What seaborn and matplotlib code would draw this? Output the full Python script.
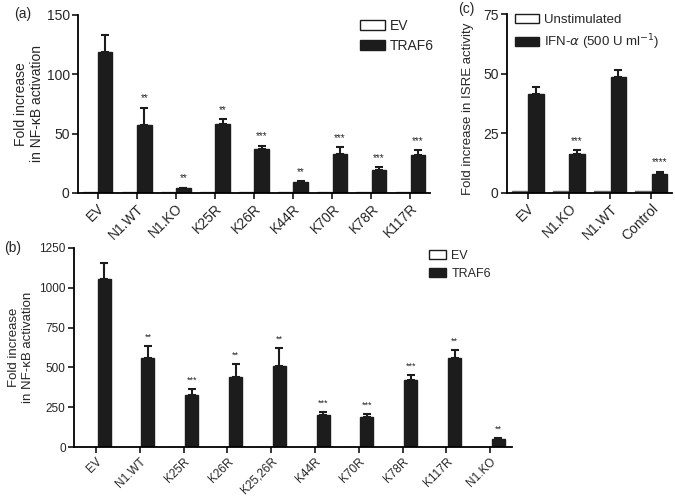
import numpy as np
import pandas as pd
import matplotlib.pyplot as plt
import seaborn as sns
from matplotlib.patches import Patch

sns.set_style("ticks")
plt.rcParams["font.family"] = ["Liberation Sans", "DejaVu Sans"]
plt.rcParams["axes.edgecolor"] = "black"

# ---- panel (a): NF-kB, TRAF6 ----
a_labels = ["EV", "N1.WT", "N1.KO", "K25R", "K26R", "K44R", "K70R", "K78R", "K117R"]
a_ev = [1, 1, 1, 1, 1, 1, 1, 1, 1]
a_traf6 = [119, 57, 4, 58, 37, 9, 33, 19, 32]
a_err = [14, 15, 0.6, 4.5, 3, 1.2, 5.5, 3, 4]
a_stars = ["", "**", "**", "**", "***", "**", "***", "***", "***"]

# ---- panel (b): NF-kB, TRAF6 (second set) ----
b_labels = ["EV", "N1.WT", "K25R", "K26R", "K25,26R", "K44R", "K70R", "K78R", "K117R", "N1.KO"]
b_ev = [3, 3, 3, 3, 3, 3, 3, 3, 3, 3]
b_traf6 = [1055, 560, 325, 440, 510, 200, 190, 420, 560, 50]
b_err = [100, 75, 40, 80, 110, 20, 15, 35, 52, 6]
b_stars = ["", "**", "***", "**", "**", "***", "***", "***", "**", "**"]

# ---- panel (c): ISRE ----
c_labels = ["EV", "N1.KO", "N1.WT", "Control"]
c_unstim = [1, 1, 1, 1]
c_ifn = [41.5, 16.5, 48.5, 8]
c_err = [3, 1.5, 3, 1]
c_stars = ["", "***", "", "****"]

fig = plt.figure(figsize=(6.75, 5.01), dpi=100)
W, H = 675, 501


def add_ax(left, top, right, bottom):
    return fig.add_axes([left / W, 1 - bottom / H, (right - left) / W, (bottom - top) / H])


def draw_panel(ax, labels, low, high, err, stars, names, low_fill, low_edge,
               width, gap, tick_fs, star_fs):
    n = len(labels)
    df = pd.DataFrame({
        "group": labels * 2,
        "cond": [names[0]] * n + [names[1]] * n,
        "value": low + high,
    })
    sns.barplot(data=df, x="group", y="value", hue="cond", order=labels,
                hue_order=names, palette=[low_fill, "#1c1c1c"], errorbar=None,
                width=width, gap=gap, legend=False, ax=ax)
    for p in ax.containers[0]:
        p.set_edgecolor(low_edge)
        p.set_linewidth(1.0)
    for p in ax.containers[1]:
        p.set_edgecolor("#1c1c1c")
        p.set_linewidth(1.0)
    xs = [p.get_x() + p.get_width() / 2 for p in ax.containers[1]]
    ax.errorbar(xs, high, yerr=[np.zeros(n), err], fmt="none", ecolor="#1c1c1c",
                elinewidth=1.5, capsize=3, capthick=1.5)
    for x, h, e, s in zip(xs, high, err, stars):
        if s:
            ax.annotate(s, (x, h + e), xytext=(0, 3), textcoords="offset points",
                        ha="center", va="bottom", fontsize=star_fs)
    sns.despine(ax=ax)
    for sp in ["left", "bottom"]:
        ax.spines[sp].set_linewidth(1.3)
    ax.tick_params(axis="both", length=4, width=1.3, labelsize=tick_fs, pad=2)
    ax.set_xlabel("")
    ax.set_xticks(range(n))
    ax.set_xticklabels(labels, rotation=45, ha="right", rotation_mode="anchor")
    ax.set_xlim(-0.5, n - 0.5)


def legend(ax, labels, anchor, fs, hl):
    ax.legend(handles=[Patch(facecolor="white", edgecolor="#1c1c1c", label=labels[0]),
                       Patch(facecolor="#1c1c1c", edgecolor="#1c1c1c", label=labels[1])],
              loc="upper left", bbox_to_anchor=anchor, frameon=False, fontsize=fs,
              handlelength=hl, handleheight=0.7, handletextpad=0.4, labelspacing=0.45,
              borderaxespad=0, borderpad=0)


# (a)
ax_a = add_ax(78, 15, 430, 193)
draw_panel(ax_a, a_labels, a_ev, a_traf6, a_err, a_stars, ["EV", "TRAF6"],
           "white", "#777777", 0.78, 0.05, 10, 7)
ax_a.set_ylim(0, 150)
ax_a.set_yticks([0, 50, 100, 150])
ax_a.set_ylabel("Fold increase\nin NF-\u03baB activation", fontsize=10, labelpad=2)
legend(ax_a, ["EV", "TRAF6"], (0.80, 0.98), 10, 1.8)

# (c)
ax_c = add_ax(507, 14, 672, 193)
draw_panel(ax_c, c_labels, c_unstim, c_ifn, c_err, c_stars,
           ["Unstimulated", "IFN"], "#999999", "#666666", 0.8, 0.05, 10, 7)
ax_c.set_ylim(0, 75)
ax_c.set_yticks([0, 25, 50, 75])
ax_c.set_ylabel("Fold increase in ISRE activity", fontsize=9.5, labelpad=5)
ax_c.yaxis.set_label_coords(-0.2, 0.47)
legend(ax_c, ["Unstimulated", r"IFN-$\alpha$ (500 U ml$^{-1}$)"], (0.05, 1.0), 9.5, 1.8)

# (b)
ax_b = add_ax(74, 248, 512, 447)
draw_panel(ax_b, b_labels, b_ev, b_traf6, b_err, b_stars, ["EV", "TRAF6"],
           "white", "#bbbbbb", 0.75, 0.2, 8.5, 6.5)
ax_b.set_ylim(0, 1250)
ax_b.set_yticks([0, 250, 500, 750, 1000, 1250])
ax_b.set_ylabel("Fold increase\nin NF-\u03baB activation", fontsize=9.5, labelpad=4)
legend(ax_b, ["EV", "TRAF6"], (0.81, 0.99), 9, 1.4)

# panel letters
fig.text(14 / W, 1 - 14 / H, "(a)", fontsize=10, va="center")
fig.text(4 / W, 1 - 248 / H, "(b)", fontsize=10, va="center")
fig.text(458 / W, 1 - 9 / H, "(c)", fontsize=10, va="center")

fig.savefig("out.png", dpi=100)
